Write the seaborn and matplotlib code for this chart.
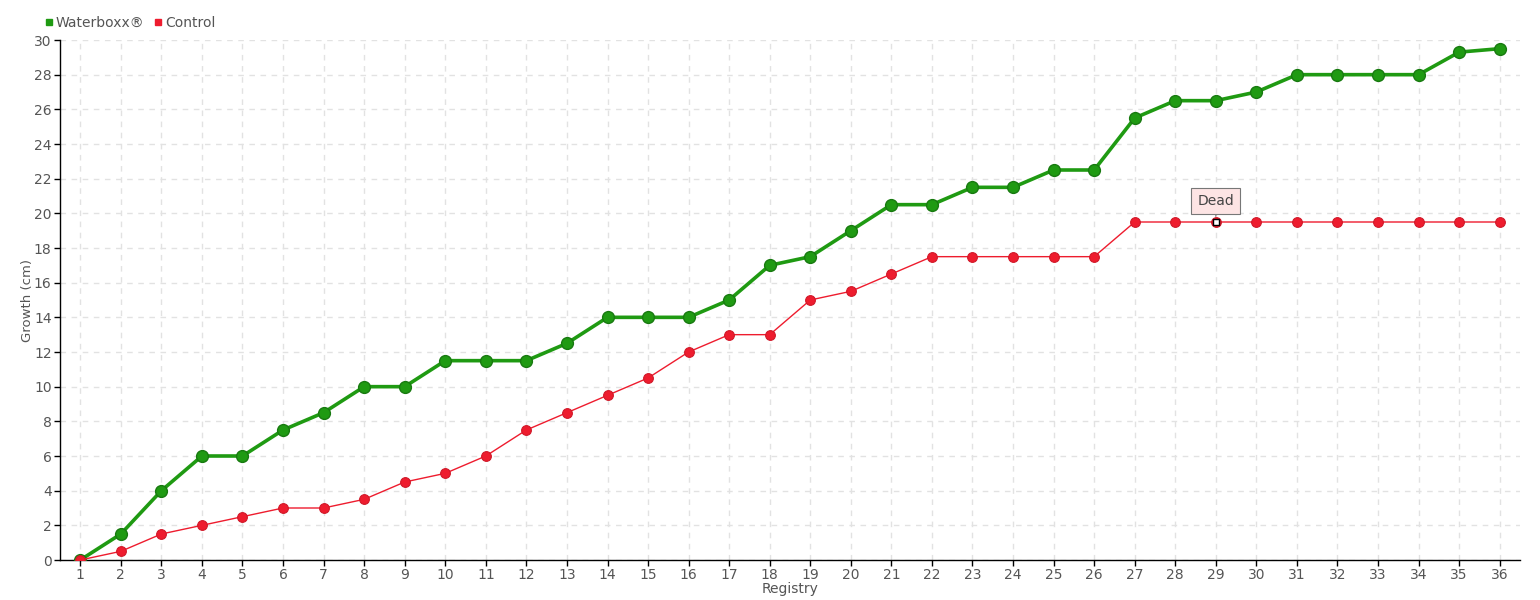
import numpy as np
import pandas as pd
import seaborn as sns
import matplotlib
matplotlib.use('Agg')
import matplotlib.pyplot as plt

registry = list(range(1, 37))
waterboxx = [0, 1.5, 4, 6, 6, 7.5, 8.5, 10, 10, 11.5, 11.5, 11.5, 12.5, 14, 14, 14, 15, 17,
             17.5, 19, 20.5, 20.5, 21.5, 21.5, 22.5, 22.5, 25.5, 26.5, 26.5, 27, 28, 28, 28, 28,
             29.3, 29.5]
control = [0, 0.5, 1.5, 2, 2.5, 3, 3, 3.5, 4.5, 5, 6, 7.5, 8.5, 9.5, 10.5, 12, 13, 13,
           15, 15.5, 16.5, 17.5, 17.5, 17.5, 17.5, 17.5, 19.5, 19.5, 19.5, 19.5, 19.5, 19.5,
           19.5, 19.5, 19.5, 19.5]
dead_at = 29

df = pd.DataFrame({'Registry': registry, 'Waterboxx®': waterboxx, 'Control': control})

sns.set_style('white')
plt.rcParams['font.family'] = ['DejaVu Sans']
green = '#1f9a12'
red = '#ee1c2e'

fig = plt.figure(figsize=(15.4, 6), dpi=100, facecolor='w')
ax = fig.add_axes([60 / 1540, 40 / 600, 1460 / 1540, 520 / 600])

sns.lineplot(data=df, x='Registry', y='Waterboxx®', ax=ax, color=green, lw=2.6,
             marker='o', markersize=8.5, markeredgecolor='#187a10', markeredgewidth=1,
             label='Waterboxx®', zorder=3)
sns.lineplot(data=df, x='Registry', y='Control', ax=ax, color=red, lw=1,
             marker='o', markersize=7, markeredgecolor='#d01828', markeredgewidth=0.8,
             label='Control', zorder=4)

# dead marker
ax.plot([dead_at], [control[dead_at - 1]], marker='s', ms=4, mfc='white', mec='black',
        mew=1, zorder=5, ls='none')
ax.annotate('Dead', xy=(dead_at, control[dead_at - 1]), xytext=(0, 15),
            textcoords='offset points', ha='center', va='center', fontsize=10, color='#444',
            bbox=dict(boxstyle='square,pad=0.45', fc='#fde4e4', ec='#777', lw=0.8),
            arrowprops=dict(arrowstyle='-', color='#777', lw=0.8, shrinkA=0, shrinkB=4),
            zorder=6)

ax.set_xlim(0.5, 36.5)
ax.set_ylim(0, 30)
ax.set_xticks(registry)
ax.set_yticks(np.arange(0, 31, 2))
ax.tick_params(axis='both', labelsize=10, labelcolor='#555', length=4, width=1,
               color='black', pad=2, direction='out')
ax.tick_params(axis='both', which='both', bottom=True, left=True)
ax.grid(True, ls=(0, (4, 4)), color='#e2e2e2', lw=1)
for s in ['top', 'right']:
    ax.spines[s].set_visible(False)
for s in ['left', 'bottom']:
    ax.spines[s].set_color('black')
    ax.spines[s].set_linewidth(1)
ax.set_xlabel('Registry', fontsize=10, color='#555', labelpad=0)
ax.set_ylabel('Growth (cm)', fontsize=9.5, color='#555', labelpad=0)

handles = [plt.Line2D([], [], marker='s', ls='none', color=green, ms=5),
           plt.Line2D([], [], marker='s', ls='none', color=red, ms=5)]
ax.legend(handles, ['Waterboxx®', 'Control'], loc='lower left',
          bbox_to_anchor=(-0.018, 1.0), ncol=2, frameon=False, fontsize=10,
          handletextpad=0.1, columnspacing=0.6, handlelength=0.8, borderaxespad=0.3,
          labelcolor='#555')

fig.savefig('out.png', dpi=100, facecolor='w')
